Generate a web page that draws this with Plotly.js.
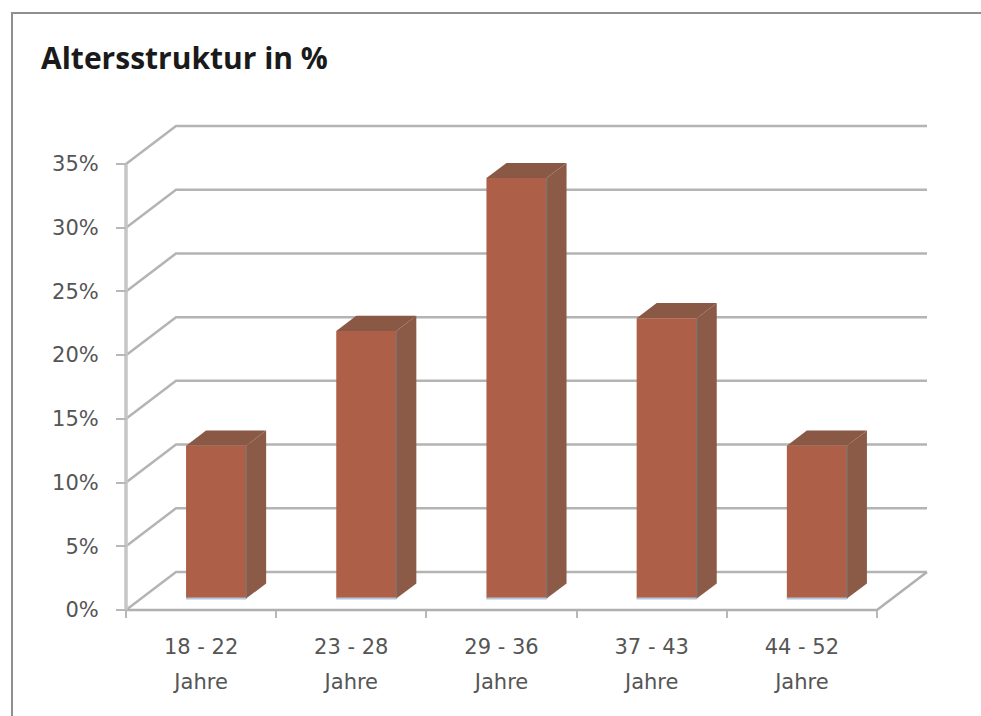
<!DOCTYPE html>
<html>
<head>
<meta charset="utf-8">
<script src="https://cdn.plot.ly/plotly-3.0.1.min.js"></script>
<style>html,body{margin:0;padding:0;background:#fff;}#chart{width:981px;height:716px;}</style>
</head>
<body>
<div id="chart"></div>
<script>
// ---- data ----
const categories = ['18 - 22', '23 - 28', '29 - 36', '37 - 43', '44 - 52'];
const unitLabel = 'Jahre';
const values = [12, 21, 33, 22, 12];
const yTickVals = [0, 5, 10, 15, 20, 25, 30, 35];
const yTickText = ['0%', '5%', '10%', '15%', '20%', '25%', '30%', '35%'];
const chartTitle = 'Altersstruktur in %';

// ---- geometry (oblique 3D projection in data units) ----
const W = 981, H = 716;
const M = {l: 100, r: 30, t: 100, b: 80};
const pxPerX = 150.2, pxPerY = 12.743;
const originPx = {x: 126, y: 610};
const plotW = W - M.l - M.r, plotH = H - M.t - M.b;
const xRange = [(M.l - originPx.x) / pxPerX, (W - M.r - originPx.x) / pxPerX];
const yRange = [(originPx.y - (H - M.b)) / pxPerY, (originPx.y - M.t) / pxPerY];
const depthX = 50 / pxPerX, depthY = 38 / pxPerY;   // full depth offset
const nCat = categories.length;
const barD0 = 0.3, barD1 = 0.7, barHalf = 0.2;

const frontColor = '#ad5f47', sideColor = '#8c5b48', topColor = '#8a5946';
const gridColor = '#b4b4b4';
const traces = [];

// back wall gridlines (front diagonal + horizontal back line)
yTickVals.forEach(g => {
  traces.push({type: 'scatter', mode: 'lines', hoverinfo: 'skip',
    x: [0, depthX, nCat + depthX], y: [g, g + depthY, g + depthY],
    line: {color: gridColor, width: 2.5}});
});
// floor front/right edges
traces.push({type: 'scatter', mode: 'lines', hoverinfo: 'skip',
  x: [0, nCat, nCat + depthX], y: [0, 0, depthY],
  line: {color: '#b0b0b0', width: 2.5}});

// bars
values.forEach((v, i) => {
  const xl = i + 0.5 - barHalf + barD0 * depthX;
  const xr = i + 0.5 + barHalf + barD0 * depthX;
  const yb = barD0 * depthY;
  const yt = v + barD0 * depthY;
  const ddx = (barD1 - barD0) * depthX, ddy = (barD1 - barD0) * depthY;
  traces.push({type: 'scatter', mode: 'lines', fill: 'toself', hoverinfo: 'skip',
    x: [xr, xr, xr + ddx, xr + ddx, xr], y: [yb, yt, yt + ddy, yb + ddy, yb],
    fillcolor: sideColor, line: {width: 0, color: sideColor}});
  traces.push({type: 'scatter', mode: 'lines', fill: 'toself', hoverinfo: 'skip',
    x: [xl, xr, xr + ddx, xl + ddx, xl], y: [yt, yt, yt + ddy, yt + ddy, yt],
    fillcolor: topColor, line: {width: 0, color: topColor}});
  traces.push({type: 'scatter', mode: 'lines', fill: 'toself', hoverinfo: 'skip',
    x: [xl, xr, xr, xl, xl], y: [yb, yb, yt, yt, yb],
    fillcolor: frontColor, line: {width: 0, color: frontColor}});
  traces.push({type: 'scatter', mode: 'lines', hoverinfo: 'skip',
    x: [xr, xr], y: [yb, yt], line: {color: '#87706a', width: 1.5}});
  traces.push({type: 'scatter', mode: 'lines', hoverinfo: 'skip',
    x: [xl, xr], y: [yb, yb], line: {color: '#b3c5da', width: 2}});
});

// front vertical axis line
traces.push({type: 'scatter', mode: 'lines', hoverinfo: 'skip',
  x: [0, 0], y: [0, yTickVals[yTickVals.length - 1]],
  line: {color: '#c6c6c6', width: 3.5}});
// dummy trace for the second category-label axis
traces.push({type: 'scatter', mode: 'markers', xaxis: 'x2', hoverinfo: 'skip',
  x: [0.5], y: [0], marker: {opacity: 0}});

const centers = categories.map((c, i) => i + 0.5);
const bounds = Array.from({length: nCat + 1}, (_, i) => i);
const labelFont = {family: 'DejaVu Sans, sans-serif', size: 21, color: '#555555'};
const posX = (H - M.b - originPx.y) / plotH;
const posY = (originPx.x - M.l) / plotW;

const layout = {
  width: W, height: H, margin: M,
  paper_bgcolor: '#ffffff', plot_bgcolor: '#ffffff',
  showlegend: false, hovermode: false,
  title: {text: '<b>' + chartTitle + '</b>', xref: 'container', yref: 'container',
    x: 41 / W, xanchor: 'left', y: 1 - 58 / H, yanchor: 'middle',
    font: {family: 'Open Sans, sans-serif', size: 30, color: '#1a1a1a'}},
  xaxis: {range: xRange, anchor: 'free', position: posX, showgrid: false, zeroline: false,
    showline: false, tickmode: 'array', tickvals: centers, ticktext: categories, ticks: '',
    ticklabelstandoff: 22, tickfont: labelFont,
    minor: {tickmode: 'array', tickvals: bounds, ticks: 'outside', ticklen: 7, tickwidth: 2,
      tickcolor: '#b8b8b8', showgrid: false}},
  xaxis2: {range: xRange, overlaying: 'x', anchor: 'free', position: posX, side: 'bottom',
    showgrid: false, zeroline: false, showline: false, tickmode: 'array', tickvals: centers,
    ticktext: categories.map(() => unitLabel), ticks: '', ticklabelstandoff: 57, tickfont: labelFont},
  yaxis: {range: yRange, anchor: 'free', position: posY, showgrid: false, zeroline: false,
    showline: false, tickmode: 'array', tickvals: yTickVals, ticktext: yTickText,
    ticks: 'outside', ticklen: 10, tickwidth: 2, tickcolor: '#b8b8b8',
    ticklabelstandoff: 13, tickfont: labelFont},
  shapes: [{type: 'rect', xref: 'paper', yref: 'paper',
    x0: (12 - M.l) / plotW, x1: (W + 60 - M.l) / plotW,
    y0: (H - M.b - (H + 60)) / plotH, y1: (H - M.b - 13) / plotH,
    line: {color: '#8f8f8f', width: 2}, fillcolor: 'rgba(0,0,0,0)', layer: 'below'}]
};

Plotly.newPlot('chart', traces, layout, {staticPlot: true, displayModeBar: false});
</script>
</body>
</html>
